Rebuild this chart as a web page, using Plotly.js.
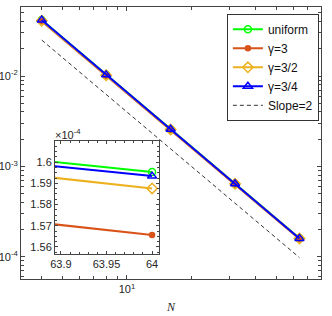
<!DOCTYPE html>
<html><head><meta charset="utf-8">
<script src="https://cdn.plot.ly/plotly-3.0.1.min.js"></script>
<style>html,body{margin:0;padding:0;background:#fff}#c{width:332px;height:316px}</style>
</head><body><div id="c"></div>
<script>
// ---- data ----
const N = [4, 8, 16, 32, 64];
const errUniform = [0.0416, 0.0103, 0.00258, 6.43e-4, 1.5953e-4];
const errGamma3 = [0.0405, 0.0101, 0.00254, 6.35e-4, 1.5656e-4];
const errGamma32 = [0.0410, 0.0102, 0.00256, 6.40e-4, 1.5876e-4];
const errGamma34 = [0.0416, 0.0103, 0.00258, 6.42e-4, 1.5934e-4];
const slopeN = [4, 64];
const slopeErr = [0.025, 9.77e-5];
// inset (values in units of 1e-4)
const insetN = [63.88, 64];
const insetUniform = [1.6006, 1.5953];
const insetGamma3 = [1.5713, 1.5656];
const insetGamma32 = [1.5932, 1.5876];
const insetGamma34 = [1.5987, 1.5934];
const names = ['uniform', 'γ=3', 'γ=3/2', 'γ=3/4', 'Slope=2'];

const cGreen = '#00ff00', cRed = '#D95319', cOrange = '#EDB120', cBlue = '#0000ff';
const styles = [
  {c: cGreen, sym: 'circle-open', size: 7},
  {c: cRed, sym: 'circle', size: 5},
  {c: cOrange, sym: 'diamond-open', size: 8},
  {c: cBlue, sym: 'triangle-up-open', size: 8}
];
const mainY = [errUniform, errGamma3, errGamma32, errGamma34];
const insetY = [insetUniform, insetGamma3, insetGamma32, insetGamma34];

const traces = [];
mainY.forEach((y, i) => {
  traces.push({x: N, y: y, name: names[i], mode: 'lines+markers', type: 'scatter',
    line: {color: styles[i].c, width: 2},
    marker: {symbol: styles[i].sym, size: styles[i].size, color: styles[i].c, line: {color: styles[i].c, width: 1.5}},
    xaxis: 'x', yaxis: 'y'});
});
traces.push({x: slopeN, y: slopeErr, name: names[4], mode: 'lines', type: 'scatter',
  line: {color: '#333', width: 1, dash: '4px,3px'}, xaxis: 'x', yaxis: 'y'});
insetY.forEach((y, i) => {
  traces.push({x: insetN, y: y, showlegend: false, mode: 'lines+markers', type: 'scatter',
    line: {color: styles[i].c, width: 2},
    marker: {symbol: styles[i].sym, size: styles[i].size, color: styles[i].c, line: {color: styles[i].c, width: 1.5}},
    xaxis: 'x2', yaxis: 'y2'});
});

const axCol = '#444';
const tickFont = {family: 'Liberation Sans, Arial, sans-serif', size: 11, color: '#262626'};
const layout = {
  width: 332, height: 316,
  margin: {l: 21, r: 11, t: 7, b: 37},
  paper_bgcolor: '#fff', plot_bgcolor: '#fff',
  showlegend: true,
  legend: {x: 0.993, y: 0.975, xanchor: 'right', yanchor: 'top', bgcolor: '#fff',
    bordercolor: '#333', borderwidth: 1,
    font: {family: 'Liberation Sans, Arial, sans-serif', size: 12, color: '#111'},
    tracegroupgap: 0, itemwidth: 30},
  xaxis: {type: 'log', range: [Math.log10(3.2), Math.log10(80.7)],
    showline: true, linecolor: axCol, linewidth: 1, mirror: 'allticks',
    ticks: 'inside', ticklen: 4, tickcolor: axCol, showgrid: false, zeroline: false,
    tickvals: [10], ticktext: ['10<sup>1</sup>'], tickfont: tickFont,
    minor: {tickvals: [4,5,6,7,8,9,20,30,40,50,60,70,80], ticks: 'inside', ticklen: 3, tickcolor: axCol, showgrid: false},
    title: {text: '<i>N</i>', font: {family: 'Liberation Serif, serif', size: 12, color: '#262626'}, standoff: 8}},
  yaxis: {type: 'log', range: [-4.247, -1.236],
    showline: true, linecolor: axCol, linewidth: 1, mirror: 'allticks',
    ticks: 'inside', ticklen: 4, tickcolor: axCol, showgrid: false, zeroline: false,
    tickvals: [1e-4, 1e-3, 1e-2], ticktext: ['10<sup>-4</sup>', '10<sup>-3</sup>', '10<sup>-2</sup>'],
    tickfont: tickFont,
    minor: {tickvals: [6e-5,7e-5,8e-5,9e-5,2e-4,3e-4,4e-4,5e-4,6e-4,7e-4,8e-4,9e-4,2e-3,3e-3,4e-3,5e-3,6e-3,7e-3,8e-3,9e-3,2e-2,3e-2,4e-2,5e-2],
      ticks: 'inside', ticklen: 3, tickcolor: axCol, showgrid: false}},
  xaxis2: {domain: [0.1133, 0.46], anchor: 'y2', range: [63.8935, 64.0076],
    showline: true, linecolor: axCol, linewidth: 1, mirror: 'allticks',
    ticks: 'inside', ticklen: 3, tickcolor: axCol, showgrid: false, zeroline: false,
    tickvals: [63.9, 63.95, 64], ticktext: ['63.9', '63.95', '64'], tickfont: tickFont,
    minor: {dtick: 0.01, tick0: 63.9, ticks: 'inside', ticklen: 2, tickcolor: axCol, showgrid: false}},
  yaxis2: {domain: [0.0919, 0.507], anchor: 'x2', range: [1.5567, 1.6099],
    showline: true, linecolor: axCol, linewidth: 1, mirror: 'allticks',
    ticks: 'inside', ticklen: 3, tickcolor: axCol, showgrid: false, zeroline: false,
    tickvals: [1.56, 1.57, 1.58, 1.59, 1.6], ticktext: ['1.56', '1.57', '1.58', '1.59', '1.6'], tickfont: tickFont,
    minor: {dtick: 0.0025, tick0: 1.56, ticks: 'inside', ticklen: 2, tickcolor: axCol, showgrid: false}},
  annotations: [{xref: 'x2 domain', yref: 'y2 domain', x: 0, y: 1, xanchor: 'left', yanchor: 'bottom',
    text: '×10<sup>-4</sup>', showarrow: false, font: tickFont, xshift: -2, yshift: -2}]
};
Plotly.newPlot('c', traces, layout, {staticPlot: true, displayModeBar: false});
</script></body></html>
